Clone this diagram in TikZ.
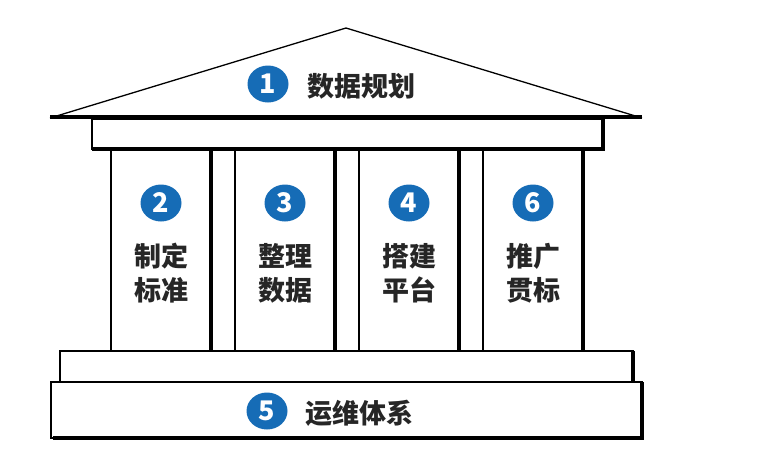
\documentclass[tikz,border=0pt]{standalone}
\usepackage{fontspec}
\usepackage{tikz}
\usetikzlibrary{shapes.geometric}
\newfontfamily\cjk[UprightFont={* Black}]{Noto Sans CJK SC}
\definecolor{numblue}{RGB}{22,108,182}

\begin{document}
\begin{tikzpicture}[x=1pt, y=-1pt,
		thin_line/.style={draw=black, line width=1.3pt},
		thick_line/.style={draw=black, line width=4pt},
		num_style/.style={ellipse, fill=numblue, text=white, minimum width=41pt, minimum height=37pt, inner sep=0pt, font=\cjk\fontsize{27}{27}\selectfont},
		title_style/.style={anchor=west, text=black!85, font=\cjk\fontsize{27}{27}\selectfont},
		label_style/.style={align=center, text=black!85, font=\cjk\fontsize{27}{34}\selectfont}]
		
		\useasboundingbox (0,0) rectangle (758,472);
		
		% roof
		\draw[thin_line, fill=white] (50,118) -- (346,28) -- (642,118);
		\draw[thick_line] (50,117) -- (642,117);
		
		% beam under the roof
		\draw[thin_line] (92,119) rectangle (603,149);
		\draw[thick_line] (92,149) -- (603,149) -- (603,119);
		
		% columns
		\draw[thin_line]  (111,149) -- (111,351);
		\draw[thick_line] (211,149) -- (211,351);
		\draw[thin_line]  (235,149) -- (235,351);
		\draw[thick_line] (335,149) -- (335,351);
		\draw[thin_line]  (359,149) -- (359,351);
		\draw[thick_line] (459,149) -- (459,351);
		\draw[thin_line]  (483,149) -- (483,351);
		\draw[thick_line] (583,149) -- (583,351);
		
		% steps
		\draw[thin_line] (60,351) rectangle (633,382);
		\draw[thick_line] (633,351) -- (633,382);
		\draw[thin_line] (51,382) rectangle (642,438);
		\draw[thick_line] (53,438) -- (642,438) -- (642,382);
		
		\node[num_style] (n1) at (268,84)  {1};
		\node[title_style] (t1) at (304,86)  {数据规划};
		
		\node[num_style] (n2) at (161,203)  {2};
		\node[label_style] (t2) at (161,273)  {制定\\标准};
		\node[num_style] (n3) at (285,203)  {3};
		\node[label_style] (t3) at (285,273)  {整理\\数据};
		\node[num_style] (n4) at (409,203)  {4};
		\node[label_style] (t4) at (409,273)  {搭建\\平台};
		\node[num_style] (n6) at (533,203)  {6};
		\node[label_style] (t6) at (533,273)  {推广\\贯标};
		
		\node[num_style] (n5) at (267,411)  {5};
		\node[title_style] (t5) at (302,413)  {运维体系};
		\end{tikzpicture}
\end{document}
